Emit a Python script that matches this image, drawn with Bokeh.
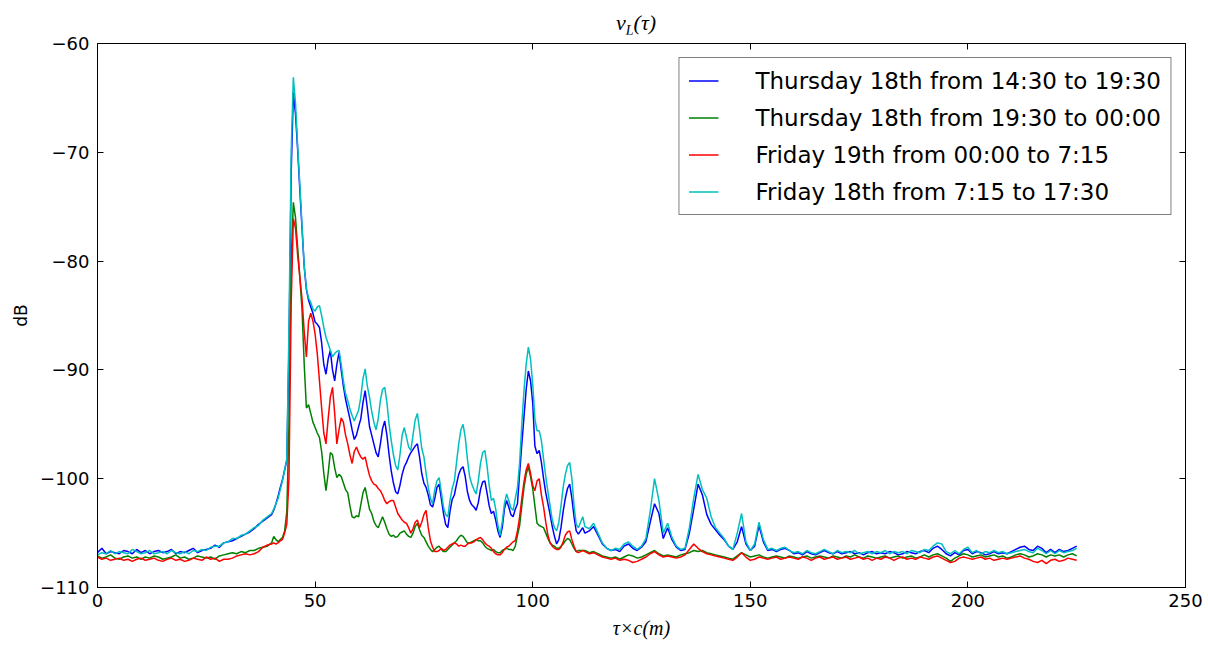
from bokeh.plotting import figure
from bokeh.layouts import column
from bokeh.models import (LinearAxis, Legend, LegendItem, FixedTicker, Div,
                          Range1d, CustomJSTickFormatter)
from bokeh.embed import file_html
from bokeh.resources import INLINE

# ---- sample positions (tau x c, metres) ----
tau_a = list(range(0, 40))
tau_b = [40 + 0.5 * i for i in range(144)]
tau_c = list(range(112, 226))
tau = tau_a + tau_b + tau_c

# ---- Thursday 18th 14:30-19:30 (blue) ----
blue_a = [-106.8, -106.4, -106.9, -106.7, -106.8, -106.9, -106.6, -106.7, -106.9, -106.5,
          -106.8, -106.6, -106.9, -106.7, -106.6, -106.8, -106.7, -106.5, -106.9, -106.7,
          -106.8, -106.6, -106.4, -106.8, -106.6, -106.5, -106.4, -106.1, -106.3, -105.9,
          -105.8, -105.7, -105.5, -105.3, -105.1, -104.9, -104.6, -104.2, -103.9, -103.6]
blue_b = [-103.3, -102.9, -102.3, -101.6, -100.8, -100.1, -99.2, -98.3, -88.0, -72.0,
          -64.5, -66.5, -69.8, -73.5, -77.0, -80.5, -82.6, -83.6, -84.2, -84.8,
          -85.6, -85.8, -86.1, -87.5, -89.5, -90.4, -89.0, -88.2, -90.0, -91.0,
          -89.5, -88.4, -90.0, -91.5, -92.7, -93.6, -94.5, -95.5, -96.4, -96.0,
          -95.2, -94.5, -93.0, -91.9, -93.5, -95.2, -96.0, -96.8, -97.6, -98.0,
          -96.8, -95.4, -94.7, -96.0, -97.8, -99.3, -100.4, -101.2, -101.4, -100.6,
          -99.6, -98.9, -98.5, -98.0, -97.6, -97.3, -97.0, -96.8, -98.0, -99.5,
          -100.4, -100.8, -101.5, -102.4, -102.6, -101.8, -100.8, -100.5, -101.8, -103.2,
          -104.2, -104.5, -103.0, -101.9, -101.5, -100.5, -99.6, -99.1, -98.9, -99.8,
          -101.2, -102.0, -102.4, -102.6, -102.9, -102.2, -101.0, -100.3, -100.2, -101.3,
          -102.5, -103.2, -103.0, -103.8, -104.8, -105.4, -104.5, -102.8, -102.0, -102.6,
          -103.3, -103.5, -102.8, -102.3, -99.5, -96.8, -94.3, -91.8, -90.1, -91.0,
          -93.0, -97.0, -97.7, -97.4, -98.5, -100.0, -101.3, -102.3, -103.3, -104.4,
          -105.3, -106.0, -105.6, -104.5, -103.0, -101.8, -100.9, -100.5, -101.8, -103.5,
          -104.8, -105.1, -104.8, -104.5]
blue_c = [-105.0, -104.8, -104.4, -105.2, -106.0, -106.4, -106.6, -106.5, -106.7, -106.2,
          -106.0, -106.4, -106.6, -106.3, -105.8, -104.0, -102.3, -103.2, -105.5, -104.5,
          -105.6, -106.3, -106.6, -106.5, -105.0, -102.8, -100.5, -101.5, -103.3, -104.2,
          -104.7, -105.2, -105.6, -106.2, -106.5, -105.8, -104.4, -106.0, -106.6, -106.2,
          -104.3, -105.8, -106.6, -106.5, -106.7, -106.5, -106.4, -106.6, -106.9, -106.8,
          -107.0, -106.7, -106.9, -107.0, -106.8, -106.6, -106.8, -106.9, -106.7, -106.9,
          -106.8, -106.7, -106.9, -106.8, -107.0, -106.8, -106.7, -106.9, -106.8, -106.9,
          -106.7, -106.8, -107.0, -106.9, -106.7, -106.8, -106.9, -106.7, -106.6, -106.8,
          -106.4, -106.2, -106.5, -106.9, -107.1, -106.8, -107.0, -106.6, -106.5, -106.9,
          -106.7, -106.8, -107.0, -106.9, -106.7, -106.9, -106.8, -106.9, -106.7, -106.5,
          -106.3, -106.2, -106.5, -106.6, -106.2, -106.4, -106.8, -106.5, -106.8, -106.5,
          -106.7, -106.6, -106.4, -106.2]

# ---- Thursday 18th 19:30-00:00 (green) ----
green_a = [-107.1, -107.3, -107.2, -107.0, -107.3, -107.4, -107.2, -107.1, -107.3, -107.2,
           -107.4, -107.2, -107.3, -107.1, -107.2, -107.4, -107.3, -107.2, -107.0, -107.3,
           -107.2, -107.4, -107.3, -107.1, -107.2, -107.3, -107.2, -107.4, -107.1, -107.0,
           -106.9, -106.8, -106.9, -106.7, -106.8, -106.6, -106.6, -106.4, -106.3, -106.2]
green_b = [-105.9, -105.3, -105.6, -105.8, -105.6, -105.4, -104.8, -103.0, -95.0, -80.0,
           -74.6, -76.0, -78.8, -81.5, -84.5, -89.5, -93.5, -93.2, -94.0, -94.8,
           -95.3, -95.8, -96.2, -97.5, -99.5, -101.1, -99.5, -97.6, -97.8, -99.0,
           -99.9, -99.6, -99.8, -100.4, -101.0, -101.3, -102.5, -103.5, -103.6, -103.4,
           -103.5, -102.4, -101.3, -100.8, -101.8, -102.8, -103.2, -103.9, -104.3, -104.5,
           -104.0, -103.5, -104.0, -104.6, -105.1, -105.3, -105.2, -105.4, -105.3, -105.0,
           -104.9, -104.8, -105.1, -105.3, -105.4, -105.0, -104.4, -104.1, -104.7, -105.2,
           -105.4, -105.8, -106.2, -106.5, -106.7, -106.5, -106.3, -106.2, -106.5, -106.7,
           -106.7, -106.5, -106.3, -106.1, -105.9, -105.7, -105.4, -105.2, -105.3, -105.6,
           -105.9, -105.9, -105.8, -105.7, -105.6, -105.7, -105.7, -105.9, -106.2, -106.4,
           -106.5, -106.6, -106.5, -106.7, -106.8, -106.8, -106.6, -106.5, -106.4, -106.5,
           -106.5, -106.6, -106.2, -105.2, -104.3, -102.5, -100.8, -99.6, -98.9, -99.8,
           -100.9, -102.5, -104.1, -104.3, -104.4, -104.5, -105.0, -105.5, -105.9, -106.1,
           -106.2, -106.4, -106.4, -106.2, -106.0, -105.7, -105.5, -105.6, -106.0, -106.4,
           -106.7, -106.6, -106.6, -106.6]
green_c = [-106.6, -106.8, -106.7, -106.9, -107.1, -107.2, -107.3, -107.2, -107.4, -107.2,
           -107.0, -107.1, -107.3, -107.2, -107.0, -106.8, -106.6, -106.9, -107.1, -107.0,
           -107.1, -107.2, -107.0, -106.9, -106.8, -106.6, -106.7, -106.6, -106.8, -106.9,
           -107.0, -107.1, -107.2, -107.3, -107.4, -107.1, -106.8, -107.0, -107.2, -107.1,
           -107.0, -107.2, -107.3, -107.2, -107.1, -107.2, -107.3, -107.1, -107.2, -107.3,
           -107.2, -107.1, -107.3, -107.2, -107.1, -107.2, -107.3, -107.1, -107.2, -107.3,
           -107.1, -107.2, -107.0, -107.2, -107.3, -107.1, -107.2, -107.3, -107.2, -107.1,
           -107.3, -107.2, -107.1, -107.3, -107.2, -107.1, -107.3, -107.2, -107.0, -107.2,
           -107.0, -106.9, -107.1, -107.3, -107.6, -107.3, -107.1, -106.9, -107.0, -107.2,
           -107.1, -107.0, -107.2, -107.1, -107.0, -107.2, -107.1, -107.3, -107.2, -107.0,
           -106.9, -107.0, -107.2, -107.1, -106.9, -107.0, -107.2, -107.0, -107.1, -107.0,
           -107.2, -107.0, -106.9, -107.1]

# ---- Friday 19th 00:00-7:15 (red) ----
red_a = [-107.2, -107.4, -107.3, -107.5, -107.4, -107.3, -107.5, -107.4, -107.6, -107.4,
         -107.3, -107.5, -107.4, -107.3, -107.5, -107.6, -107.4, -107.3, -107.5, -107.4,
         -107.6, -107.5, -107.3, -107.4, -107.5, -107.2, -107.4, -107.3, -107.6, -107.4,
         -107.4, -107.3, -107.1, -107.0, -106.9, -107.0, -106.9, -106.7, -106.3, -106.1]
red_b = [-106.0, -105.9, -106.0, -105.9, -105.7, -105.6, -105.0, -104.2, -99.9, -84.0,
         -76.1, -77.0, -79.5, -81.5, -83.5, -86.5, -88.8, -85.5, -84.8, -85.5,
         -86.7, -88.5, -91.0, -93.5, -95.8, -96.8, -94.5, -92.5, -91.6, -94.0,
         -96.8, -95.5, -94.4, -94.8, -96.0, -96.8, -97.8, -98.6, -97.5, -97.1,
         -97.6, -98.0, -98.2, -98.0, -98.9, -99.7, -100.2, -100.5, -100.6, -100.9,
         -101.1, -101.5, -102.0, -102.3, -102.1, -102.0, -102.0, -102.6, -103.2, -103.5,
         -103.8, -104.0, -104.1, -104.5, -105.0, -104.6, -104.0, -103.8, -104.5, -104.0,
         -103.3, -102.9, -104.5, -105.7, -106.3, -106.7, -106.7, -106.6, -106.4, -106.6,
         -106.5, -106.3, -106.1, -106.0, -105.9, -106.0, -106.2, -106.1, -106.2, -106.2,
         -106.0, -105.9, -105.9, -105.8, -105.6, -105.5, -105.4, -105.6, -105.9, -106.1,
         -106.2, -106.4, -106.7, -106.9, -107.0, -107.0, -106.8, -106.5, -106.3, -106.2,
         -106.0, -105.8, -105.7, -104.8, -103.5, -101.8, -100.3, -99.2, -98.6, -99.5,
         -100.6, -101.1, -100.2, -100.0, -101.5, -102.6, -104.0, -105.2, -105.9, -106.2,
         -106.4, -106.5, -106.5, -106.3, -105.8, -105.2, -104.9, -104.8, -105.6, -106.2,
         -106.7, -106.8, -106.7, -106.6]
red_c = [-106.7, -106.9, -106.8, -107.0, -107.2, -107.3, -107.4, -107.3, -107.5, -107.4,
         -107.5, -107.7, -107.6, -107.4, -107.2, -106.9, -106.7, -107.0, -107.2, -107.1,
         -107.2, -107.3, -107.2, -107.0, -106.5, -106.0, -106.4, -106.7, -106.9, -107.0,
         -107.1, -107.2, -107.3, -107.4, -107.5, -107.2, -106.8, -107.2, -107.5, -107.4,
         -107.2, -107.3, -107.4, -107.3, -107.2, -107.4, -107.3, -107.2, -107.3, -107.4,
         -107.2, -107.3, -107.5, -107.3, -107.2, -107.4, -107.3, -107.2, -107.4, -107.3,
         -107.2, -107.4, -107.3, -107.2, -107.4, -107.3, -107.5, -107.3, -107.4, -107.2,
         -107.3, -107.5, -107.3, -107.2, -107.4, -107.3, -107.4, -107.2, -107.3, -107.4,
         -107.2, -107.1, -107.3, -107.5, -107.7, -107.6, -107.3, -107.2, -107.3, -107.4,
         -107.3, -107.2, -107.4, -107.3, -107.5, -107.4, -107.3, -107.4, -107.3, -107.2,
         -107.1, -107.3, -107.4, -107.6, -107.7, -107.5, -107.8, -107.5, -107.4, -107.6,
         -107.5, -107.3, -107.4, -107.5]

# ---- Friday 18th 7:15-17:30 (cyan) ----
cyan_a = [-107.0, -106.8, -106.9, -106.6, -106.9, -106.7, -106.8, -106.9, -106.5, -106.7,
          -106.9, -106.8, -106.6, -106.9, -106.8, -106.7, -106.9, -106.6, -106.8, -106.9,
          -106.7, -106.9, -106.6, -106.7, -106.5, -106.6, -106.3, -106.2, -106.2, -105.9,
          -105.8, -105.5, -105.5, -105.2, -105.1, -104.8, -104.5, -104.3, -103.8, -103.5]
cyan_b = [-103.2, -102.8, -102.3, -101.8, -101.0, -100.2, -99.2, -98.2, -86.0, -70.0,
          -63.1, -65.5, -69.5, -73.0, -76.8, -80.5, -82.5, -83.4, -83.8, -84.4,
          -84.6, -84.2, -84.1, -85.0, -86.1, -87.0, -87.6, -88.2, -88.8, -88.5,
          -88.3, -88.2, -89.5, -91.0, -92.2, -92.8, -93.6, -94.2, -94.7, -94.2,
          -93.7, -92.5, -90.8, -89.9, -91.5, -92.5, -93.8, -94.8, -95.5, -94.5,
          -92.8, -91.8, -91.6, -93.0, -95.0, -96.5, -97.8, -98.8, -99.2, -97.8,
          -96.0, -95.3, -96.2, -97.1, -97.4, -96.0, -94.6, -94.0, -95.5, -97.2,
          -98.0, -99.5, -100.8, -101.8, -102.3, -101.0, -100.2, -99.9, -101.2, -102.6,
          -103.3, -103.5, -102.0, -100.9, -100.2, -98.5, -96.8, -95.5, -95.0, -96.2,
          -98.2, -99.8, -100.5, -101.0, -101.4, -100.2, -98.6, -97.6, -97.4, -98.8,
          -100.6, -102.0, -101.8, -102.8, -104.3, -105.2, -104.0, -102.3, -101.4, -102.0,
          -102.7, -102.9, -101.8, -100.8, -98.5, -95.0, -91.9, -89.5, -87.9, -89.0,
          -91.3, -94.5, -95.6, -95.6, -96.5, -98.2, -99.8, -101.2, -102.5, -103.8,
          -104.5, -104.8, -104.0, -102.5, -100.8, -99.6, -98.8, -98.5, -100.0, -102.5,
          -104.2, -104.5, -104.0, -103.5]
cyan_c = [-104.4, -104.6, -104.1, -105.0, -105.9, -106.4, -106.6, -106.4, -106.5, -106.0,
          -105.8, -106.2, -106.5, -106.2, -105.5, -103.0, -100.0, -102.0, -105.0, -104.1,
          -105.4, -106.2, -106.5, -106.4, -104.5, -101.8, -99.6, -101.0, -101.8, -103.5,
          -104.5, -105.0, -105.5, -106.2, -106.5, -105.0, -103.2, -105.8, -106.6, -106.0,
          -104.0, -105.6, -106.5, -106.4, -106.6, -106.4, -106.3, -106.6, -106.8, -106.7,
          -106.9, -106.6, -106.8, -106.9, -106.7, -106.5, -106.7, -106.9, -106.6, -106.8,
          -106.7, -106.8, -106.6, -106.9, -106.8, -106.7, -106.9, -106.7, -106.8, -106.6,
          -106.9, -106.7, -106.8, -106.7, -106.9, -106.6, -106.7, -106.8, -106.5, -106.6,
          -106.2, -105.9, -106.0, -106.7, -106.9, -106.6, -106.9, -106.5, -106.3, -106.8,
          -106.6, -106.9, -106.7, -106.8, -106.6, -106.8, -106.7, -106.9, -106.8, -106.7,
          -106.6, -106.5, -106.7, -106.8, -106.4, -106.6, -106.9, -106.6, -106.9, -106.6,
          -106.8, -106.7, -106.6, -106.4]

labels = ["Thursday 18th from 14:30 to 19:30",
          "Thursday 18th from 19:30 to 00:00",
          "Friday 19th from 00:00 to 7:15",
          "Friday 18th from 7:15 to 17:30"]
colors = ["#0000ff", "#008000", "#ff0000", "#00bfbf"]
x_ticks = [0, 50, 100, 150, 200, 250]
y_ticks = [-110, -100, -90, -80, -70, -60]

series = [blue_a + blue_b + blue_c,
          green_a + green_b + green_c,
          red_a + red_b + red_c,
          cyan_a + cyan_b + cyan_c]
for s in series:
    if len(s) != len(tau):
        raise ValueError("length mismatch %d vs %d" % (len(s), len(tau)))

TITLE_H = 34
p = figure(width=1208, height=647 - TITLE_H, x_range=Range1d(0, 250), y_range=Range1d(-110, -60),
           output_backend="svg", toolbar_location=None, title=None,
           min_border_left=97, min_border_right=23, min_border_top=43 - TITLE_H,
           min_border_bottom=60)
p.xgrid.visible = False
p.ygrid.visible = False
p.outline_line_color = "black"
p.outline_line_width = 1
p.background_fill_color = "white"
p.border_fill_color = "white"

minus_fmt = CustomJSTickFormatter(code="return tick < 0 ? '\u2212' + Math.abs(tick) : '' + tick;")

p.xaxis.ticker = FixedTicker(ticks=x_ticks)
p.yaxis.ticker = FixedTicker(ticks=y_ticks)
p.yaxis.formatter = minus_fmt
for ax in (p.xaxis[0], p.yaxis[0]):
    ax.major_tick_in = 6
    ax.major_tick_out = 0
    ax.minor_tick_line_color = None
    ax.axis_line_color = "black"
    ax.major_tick_line_color = "black"
    ax.major_label_text_font = "DejaVu Sans"
    ax.major_label_text_font_size = "18px"
    ax.major_label_text_color = "black"
p.xaxis.major_label_standoff = 6
p.yaxis.major_label_standoff = 8

p.xaxis.axis_label = "τ×c(m)"
p.xaxis.axis_label_text_font = "Liberation Serif"
p.xaxis.axis_label_text_font_style = "italic"
p.xaxis.axis_label_text_font_size = "20px"
p.xaxis.axis_label_text_color = "black"
p.xaxis.axis_label_standoff = 7

p.yaxis.axis_label = "dB"
p.yaxis.axis_label_text_font = "DejaVu Sans"
p.yaxis.axis_label_text_font_style = "normal"
p.yaxis.axis_label_text_font_size = "17px"
p.yaxis.axis_label_text_color = "black"
p.yaxis.axis_label_standoff = 6

top_ax = LinearAxis(ticker=FixedTicker(ticks=x_ticks), major_label_text_font_size="0px",
                    major_tick_in=6, major_tick_out=0, minor_tick_line_color=None,
                    axis_line_color=None, major_label_standoff=0)
right_ax = LinearAxis(ticker=FixedTicker(ticks=y_ticks), major_label_text_font_size="0px",
                      major_tick_in=6, major_tick_out=0, minor_tick_line_color=None,
                      axis_line_color=None, major_label_standoff=0)
p.add_layout(top_ax, "above")
p.add_layout(right_ax, "right")

items = []
for lab, ys, col in zip(labels, series, colors):
    r = p.line(tau, ys, line_color=col, line_width=1.5)
    items.append(LegendItem(label=lab, renderers=[r]))

legend = Legend(items=items, location="top_right", margin=14, padding=9, spacing=10,
                glyph_width=30, glyph_height=27, label_height=27, label_standoff=37,
                label_text_font="DejaVu Sans", label_text_font_size="23px",
                label_text_color="black", border_line_color="black", border_line_width=1,
                background_fill_color="white", background_fill_alpha=1)
p.add_layout(legend)

# title v_L(tau) as real HTML text above the plot
title_html = (
    '<div style="position:absolute;left:616px;top:11px;font-family:\'Liberation Serif\',serif;'
    'font-style:italic;font-size:22px;line-height:23px;color:black;white-space:nowrap;">'
    'v<sub style="font-size:14px;">L</sub>(τ)</div>'
)
title_div = Div(text=title_html, width=1208, height=TITLE_H, margin=(0, 0, 0, 0))

layout = column(title_div, p, spacing=0)
open("out.html", "w").write(file_html(layout, INLINE))
